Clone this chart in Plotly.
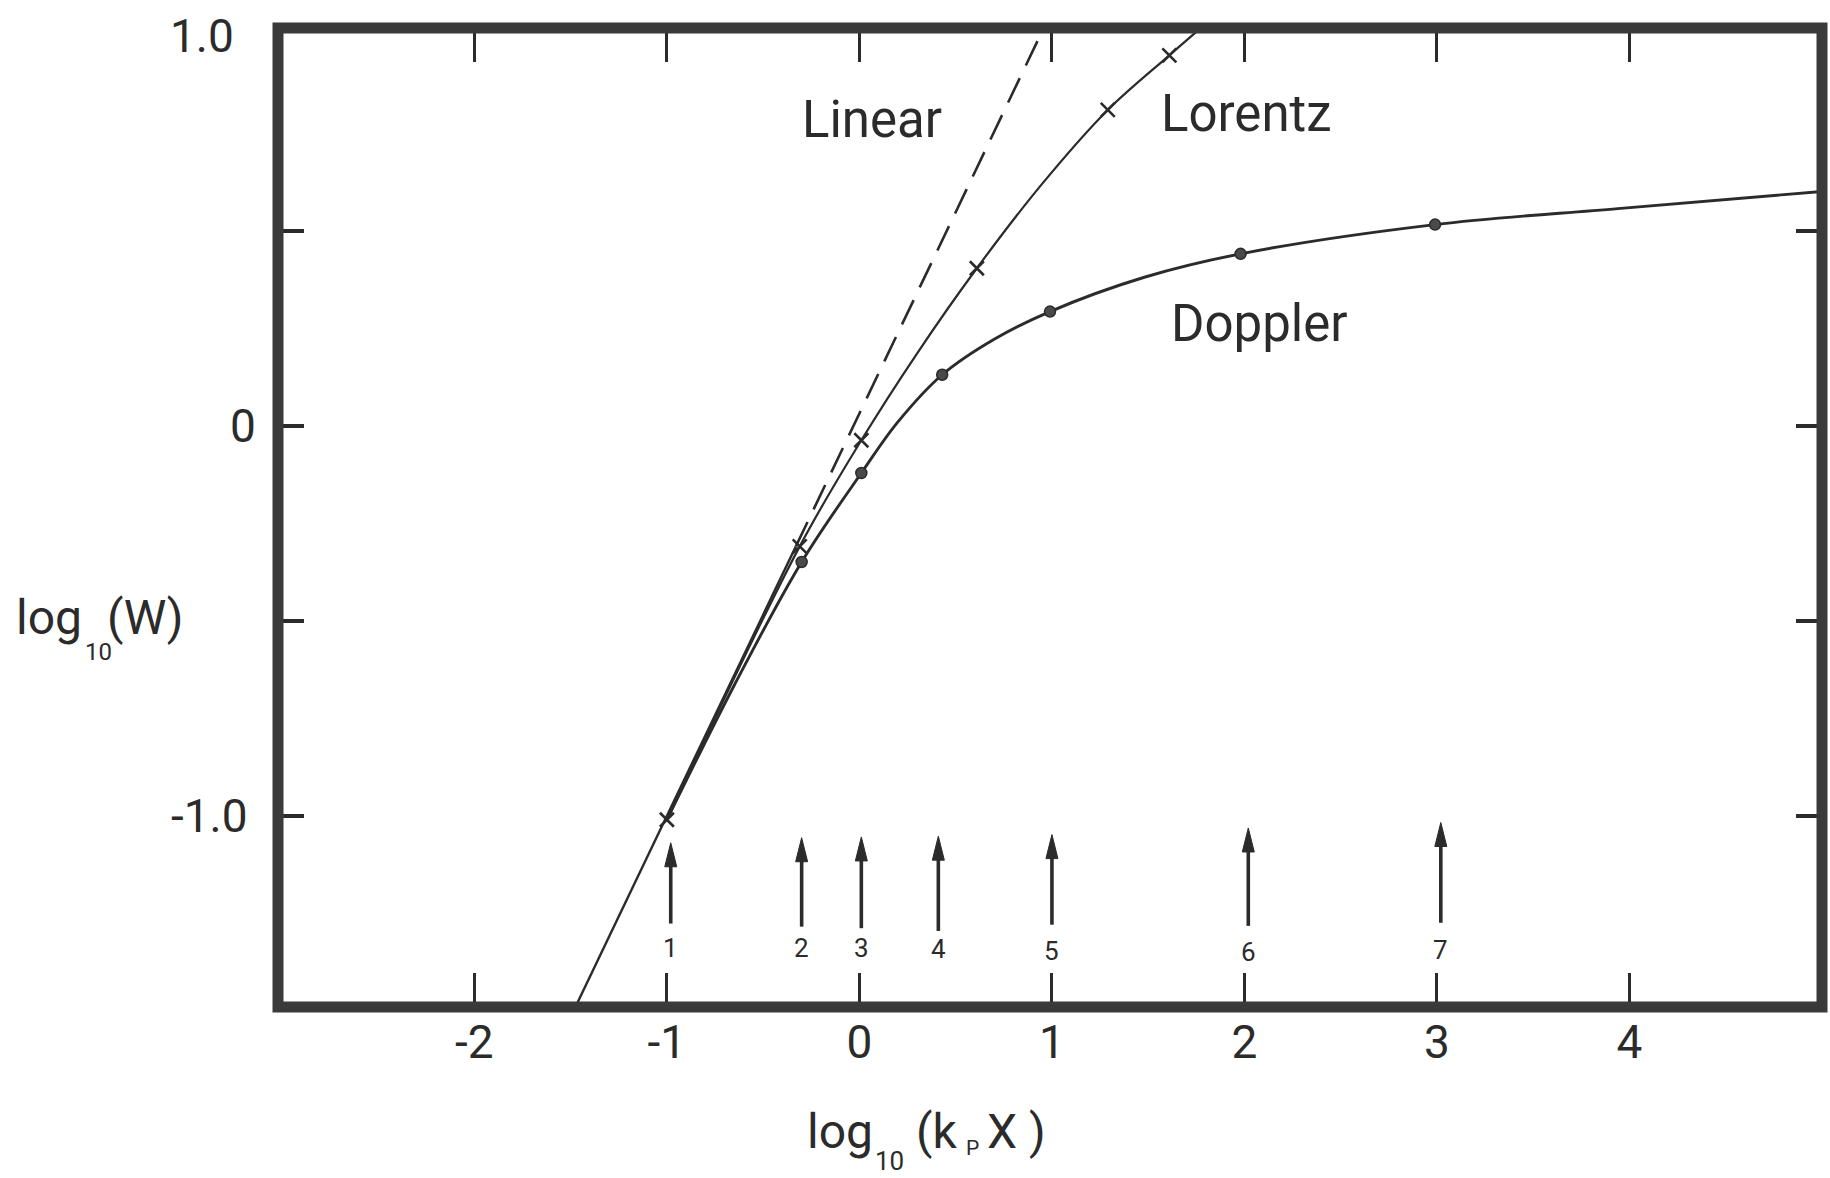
import plotly.graph_objects as go

# ---- axes -------------------------------------------------------------
X_RANGE = [-3.02, 5.0]
Y_RANGE = [-1.49, 1.02]

x_ticks = [-2, -1, 0, 1, 2, 3, 4]
x_tick_text = ["-2", "-1", "0", "1", "2", "3", "4"]
y_ticks = [-1.0, -0.5, 0.0, 0.5]
y_label_vals = [1.0, 0.0, -1.0]
y_label_text = ["1.0", "0", "-1.0"]

# ---- curves of growth -------------------------------------------------
# linear regime, W proportional to k_P X
linear_x = [-1.48, -0.33, 0.97]
linear_y = [-1.495, -0.309, 1.033]

# Lorentz profile
lorentz_x = [-1.0, -0.31, 0.01, 0.30, 0.61, 0.95, 1.29, 1.61, 1.75]
lorentz_y = [-1.01, -0.309, -0.037, 0.186, 0.404, 0.621, 0.81, 0.95, 1.01]
lorentz_mark_x = [-1.0, -0.31, 0.01, 0.61, 1.29, 1.61]
lorentz_mark_y = [-1.01, -0.309, -0.037, 0.404, 0.81, 0.95]

# Doppler profile
doppler_x = [-1.0, -0.65, -0.30, 0.01, 0.20, 0.43, 0.70, 0.99, 1.48, 1.98, 2.99, 3.94, 5.0]
doppler_y = [-1.01, -0.665, -0.349, -0.121, 0.010, 0.131, 0.222, 0.293, 0.381, 0.441, 0.516, 0.557, 0.601]
doppler_mark_x = [-0.30, 0.01, 0.43, 0.99, 1.98, 2.99]
doppler_mark_y = [-0.349, -0.121, 0.131, 0.293, 0.441, 0.516]

# ---- numbered arrows along the log(k_P X) axis ------------------------
arrow_x = [-0.98, -0.30, 0.01, 0.41, 1.00, 2.02, 3.02]
arrow_tip_y = [-1.069, -1.056, -1.054, -1.052, -1.048, -1.031, -1.017]
arrow_base_y = [-1.276, -1.284, -1.288, -1.295, -1.279, -1.282, -1.274]
arrow_label_y = [-1.339, -1.339, -1.340, -1.342, -1.346, -1.350, -1.345]
arrow_labels = ["1", "2", "3", "4", "5", "6", "7"]

# ---- curve names ------------------------------------------------------
curve_names = ["Linear", "Lorentz", "Doppler"]
curve_name_x = [0.065, 2.01, 2.08]
curve_name_y = [0.785, 0.80, 0.262]

FONT = "Roboto, 'DejaVu Sans', sans-serif"
INK = "#2b2b2b"
FRAME = "#3a3a3a"

W, H = 1830, 1178
ML, MR, MT, MB = 278, 8, 28, 171
PW, PH = W - ML - MR, H - MT - MB


def paper_x(px):
    return (px - ML) / PW


def paper_y(py):
    return (H - MB - py) / PH


fig = go.Figure()

# straight linear line: solid where the curves coincide, dashed above
split = 2
fig.add_trace(go.Scatter(x=linear_x[:split], y=linear_y[:split], mode="lines",
                         line=dict(color=INK, width=2.4), hoverinfo="skip"))
fig.add_trace(go.Scatter(x=linear_x[split - 1:], y=linear_y[split - 1:], mode="lines",
                         line=dict(color=INK, width=2.6, dash="27px,14px"), hoverinfo="skip"))

fig.add_trace(go.Scatter(x=lorentz_x, y=lorentz_y, mode="lines",
                         line=dict(color=INK, width=2.2, shape="spline", smoothing=1.0),
                         hoverinfo="skip"))
fig.add_trace(go.Scatter(x=lorentz_mark_x, y=lorentz_mark_y, mode="markers",
                         marker=dict(symbol="x-thin", size=14, line=dict(color=INK, width=2.6)),
                         hoverinfo="skip"))

fig.add_trace(go.Scatter(x=doppler_x, y=doppler_y, mode="lines",
                         line=dict(color=INK, width=2.9, shape="spline", smoothing=1.0),
                         hoverinfo="skip"))
fig.add_trace(go.Scatter(x=doppler_mark_x, y=doppler_mark_y, mode="markers",
                         marker=dict(symbol="circle", size=11, color="#4a4a4a",
                                     line=dict(color=INK, width=1.5)),
                         hoverinfo="skip"))

# arrow shafts
shaft_x, shaft_y = [], []
for xv, tip, base in zip(arrow_x, arrow_tip_y, arrow_base_y):
    shaft_x += [xv, xv, None]
    shaft_y += [base, tip - 0.035, None]
fig.add_trace(go.Scatter(x=shaft_x, y=shaft_y, mode="lines",
                         line=dict(color=INK, width=3.6), hoverinfo="skip"))

shapes = []
# arrow heads, sized in pixels and anchored at the tip
for xv, tip in zip(arrow_x, arrow_tip_y):
    shapes.append(dict(type="path", xref="x", yref="y",
                       xsizemode="pixel", ysizemode="pixel",
                       xanchor=xv, yanchor=tip,
                       path="M0,0 L-6,-24 L6,-24 Z",
                       fillcolor=INK, line=dict(color=INK, width=1)))
# heavy plot frame
shapes.append(dict(type="rect", xref="paper", yref="paper", x0=0, x1=1, y0=0, y1=1,
                   line=dict(color=FRAME, width=11), layer="above"))

annotations = []
label_gap = {"1.0": -42, "0": -20, "-1.0": -28}
for txt, yv in zip(y_label_text, y_label_vals):
    annotations.append(dict(x=X_RANGE[0], y=yv, xref="x", yref="y", text=txt,
                            showarrow=False, xanchor="right", yanchor="middle",
                            xshift=label_gap[txt],
                            font=dict(family=FONT, size=46, color=INK)))
for txt, xv, yv in zip(arrow_labels, arrow_x, arrow_label_y):
    annotations.append(dict(x=xv, y=yv, xref="x", yref="y", text=txt, showarrow=False,
                            xanchor="center", yanchor="middle",
                            font=dict(family=FONT, size=26, color=INK)))
for txt, xv, yv in zip(curve_names, curve_name_x, curve_name_y):
    annotations.append(dict(x=xv, y=yv, xref="x", yref="y", text=txt, showarrow=False,
                            xanchor="center", yanchor="middle",
                            font=dict(family=FONT, size=51, color=INK)))

# axis titles, set piece by piece so the hand-lettered subscripts sit low
title_pieces = [
    # (text, left px, centre px, font size)
    ("log", 14, 617, 48), ("10", 83, 652, 24), ("(W)", 105, 617, 48),
    ("log", 805, 1131, 48), ("10", 873, 1161, 26), ("(k", 914, 1131, 48),
    ("P", 964, 1148, 21), ("X )", 985, 1131, 48),
]
for txt, px, py, fs in title_pieces:
    annotations.append(dict(x=paper_x(px), y=paper_y(py), xref="paper", yref="paper",
                            xanchor="left", yanchor="middle", showarrow=False, text=txt,
                            font=dict(family=FONT, size=fs, color=INK)))

fig.update_layout(
    width=W, height=H,
    margin=dict(l=ML, r=MR, t=MT, b=MB),
    paper_bgcolor="white", plot_bgcolor="white",
    showlegend=False,
    shapes=shapes,
    annotations=annotations,
    xaxis=dict(range=X_RANGE, tickvals=x_ticks, ticktext=x_tick_text,
               ticks="inside", ticklen=34, tickwidth=3, tickcolor=INK,
               mirror="ticks", showline=False, showgrid=False, zeroline=False,
               ticklabelstandoff=4,
               tickfont=dict(family=FONT, size=46, color=INK)),
    yaxis=dict(range=Y_RANGE, tickvals=y_ticks, showticklabels=False,
               ticks="inside", ticklen=26, tickwidth=4, tickcolor=INK,
               mirror="ticks", showline=False, showgrid=False, zeroline=False),
)

fig.write_html("out.html")
